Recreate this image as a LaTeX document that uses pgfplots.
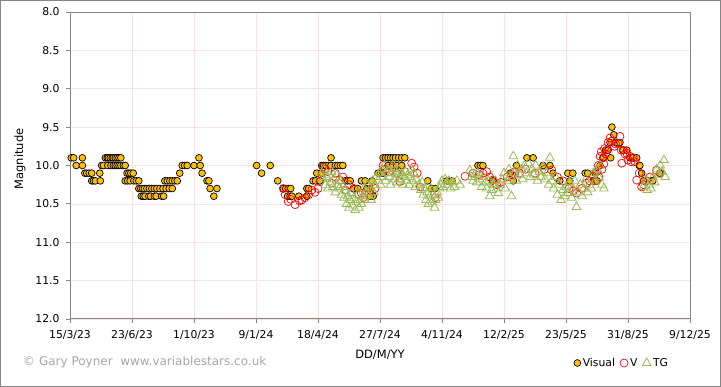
\documentclass[border=0pt]{standalone}
\usepackage{pgfplots}
\pgfplotsset{compat=1.18}
\usepackage{fontspec}
\setmainfont{DejaVu Sans}
\definecolor{visfill}{RGB}{255,192,0}
\definecolor{vred}{RGB}{255,0,0}
\definecolor{tggreen}{RGB}{155,187,89}
\definecolor{gridpink}{RGB}{250,226,226}
\definecolor{axisgray}{RGB}{134,134,134}
\definecolor{copygray}{RGB}{166,166,166}
\begin{document}
\begin{tikzpicture}[x=1pt,y=1pt]
\useasboundingbox (0,0) rectangle (721,387);
\draw[axisgray,line width=1.2pt] (0.6,0.6) rectangle (720.4,386.4);
\begin{axis}[
  at={(70pt,68pt)}, anchor=south west,
  scale only axis, width=620pt, height=307pt,
  xmin=0, xmax=1000, ymin=8, ymax=12, y dir=reverse,
  xtick={0,100,200,300,400,500,600,700,800,900,1000},
  xticklabels={15/3/23,23/6/23,1/10/23,9/1/24,18/4/24,27/7/24,4/11/24,12/2/25,23/5/25,31/8/25,9/12/25},
  ytick={8,8.5,9,9.5,10,10.5,11,11.5,12},
  yticklabel style={xshift=-3pt, /pgf/number format/fixed, /pgf/number format/fixed zerofill, /pgf/number format/precision=1},
  /pgf/number format/assume math mode=true,
  tick label style={font=\fontsize{10.8}{12}\selectfont},
  xticklabel style={yshift=-4pt},
  xtick pos=bottom, ytick pos=left,
  tick align=outside, major tick length=4pt,
  grid=major, major grid style={gridpink, line width=0.7pt},
  axis line style={axisgray, line width=1pt},
  tick style={axisgray, line width=0.8pt},
  legend columns=3,
  legend style={at={(axis description cs:0.8903,-0.1433)}, anchor=center, draw=none, fill=none,
     font=\fontsize{10.8}{12}\selectfont, inner sep=0pt,
     /tikz/every even column/.append style={column sep=3pt}},
  legend cell align=left,
  legend image code/.code={\draw[#1,mark repeat=2,mark phase=2] plot coordinates {(0pt,0pt)(5pt,0pt)(10pt,0pt)};},
]
\addplot[only marks, mark=*, mark size=3.4pt, mark options={fill=visfill, draw=black, line width=0.7pt}] coordinates {
(2,9.9)(6,9.9)(10,10.0)(20,9.9)(20,10.0)
(24,10.1)(27,10.1)(31,10.1)(35,10.1)(35,10.2)(38,10.2)(41,10.2)
(48,10.1)(49,10.2)(51,10.0)(54,10.0)
(57,9.9)(60,9.9)(62,9.9)(65,9.9)(68,9.9)(70,9.9)(73,9.9)(76,9.9)(79,9.9)(82,9.9)
(61,10.0)(66,10.0)(70,10.0)(73,10.0)(76,10.0)(79,10.0)(82,10.0)(86,10.0)(89,10.0)
(92,10.1)(95,10.1)(98,10.1)(102,10.1)
(89,10.2)(93,10.2)(97,10.2)(103,10.2)(107,10.2)(111,10.2)
(111,10.3)(114,10.3)(117,10.3)(120,10.3)(124,10.3)(128,10.3)(132,10.3)(136,10.3)(140,10.3)(145,10.3)(150,10.3)(155,10.3)(160,10.3)(165,10.3)
(115,10.4)(118,10.4)(121,10.4)(127,10.4)(130,10.4)(136,10.4)(139,10.4)(148,10.4)(151,10.4)
(153,10.2)(157,10.2)(161,10.2)(165,10.2)(169,10.2)(173,10.2)
(177,10.1)(181,10.0)(185,10.0)(189,10.0)
(200,10.0)(208,9.9)(210,10.0)(213,10.1)(221,10.2)(224,10.2)
(226,10.3)(237,10.3)(232,10.4)
(301,10.0)(309,10.1)(323,10.0)(335,10.2)
(344,10.3)(348,10.3)(352,10.3)(356,10.3)
(351,10.4)(355,10.4)(358,10.4)(369,10.4)
(382,10.3)(385,10.3)(382,10.4)
(392,10.2)(396,10.2)(398,10.1)(403,10.2)(406,10.1)
(406,10.0)(409,10.0)(413,10.0)(417,10.0)(421,10.0)(428,10.0)(432,10.0)(436,10.0)(440,10.0)
(421,9.9)
(444,10.2)(448,10.2)(452,10.2)(457,10.3)
(464,10.3)(470,10.2)(476,10.2)(479,10.3)(484,10.3)(487,10.2)(489,10.4)(484,10.4)
(497,10.1)(501,10.1)(505,10.1)
(505,9.9)(509,9.9)(513,9.9)(517,9.9)(521,9.9)(525,9.9)(530,9.9)(535,9.9)(540,9.9)
(513,10.0)(520,10.0)(527,10.0)(535,10.0)
(577,10.2)(583,10.3)(589,10.3)(608,10.2)(616,10.2)
(658,10.0)(662,10.0)(666,10.0)
(682,10.2)(710,10.1)(715,10.2)(720,10.0)
(737,9.9)(747,9.9)(763,10.0)(774,10.0)(779,10.1)(790,10.2)
(803,10.1)(811,10.1)(806,10.2)(831,10.1)(835,10.1)(844,10.2)(850,10.2)(847,10.1)
(855,10.0)(860,9.9)(864,9.8)(868,9.8)(871,9.7)(874,9.5)(877,9.6)(872,9.9)(880,9.7)(887,9.7)
(892,9.8)(898,9.8)(903,9.9)(908,9.9)(914,9.9)(918,10.0)(922,10.1)(925,10.2)(938,10.2)
(919,10.0)(940,10.2)(951,10.1)
};
\addlegendentry{Visual}
\addplot[only marks, mark=o, mark size=4pt, mark options={draw=vred, line width=0.7pt}] coordinates {
(344,10.3)(347,10.38)(352,10.47)(356,10.44)(363,10.51)(370,10.46)(374,10.45)(379,10.42)(385,10.38)
(390,10.32)(395,10.35)(400,10.3)(403,10.21)(406,10.12)(408,10.02)(411,10.05)(416,10.08)(422,10.23)
(428,10.1)(435,10.19)(440,10.15)(444,10.32)(450,10.25)(458,10.3)(465,10.37)(470,10.36)(473,10.42)
(478,10.33)(484,10.32)(492,10.3)(505,10.0)(508,10.05)(515,10.08)(521,10.03)(527,10.1)(532,10.21)
(540,10.08)(551,9.97)(555,10.02)(560,10.1)(565,10.28)(589,10.42)(637,10.14)(650,10.1)(660,10.12)
(666,10.1)(672,10.08)(677,10.15)(682,10.19)(688,10.25)(695,10.22)(705,10.15)(712,10.12)(718,10.08)
(725,10.1)(735,10.05)(750,10.1)(765,10.05)(777,10.06)(786,10.15)(795,10.2)(805,10.3)(812,10.33)
(817,10.36)(825,10.3)(833,10.23)(838,10.2)(844,10.14)(847,10.2)(850,10.08)(852,10.0)(853,10.15)
(855,9.88)(857,9.82)(858,10.05)(860,9.9)(861,9.98)(862,9.78)(864,9.85)(866,9.8)(868,9.7)(871,9.64)
(874,9.68)(878,9.75)(880,9.72)(884,9.71)(887,9.62)(889,9.8)(890,9.97)(892,9.8)(895,9.85)(898,9.84)
(900,9.93)(903,9.88)(905,9.95)(908,9.9)(911,9.95)(914,10.19)(918,10.1)(922,10.28)(925,10.25)
(930,10.2)(935,10.15)(946,10.06)(952,10.1)
};
\addlegendentry{V}
\addplot[only marks, mark=triangle, mark size=5pt, mark options={draw=tggreen, line width=0.8pt}] coordinates {
(406,10.10)(408,10.18)(410,10.05)(412,10.25)(414,10.15)(416,10.3)(418,10.12)(420,10.22)(422,10.08)
(424,10.28)(426,10.18)(428,10.35)(430,10.12)(432,10.25)(434,10.3)(436,10.2)(438,10.38)(440,10.28)
(442,10.42)(444,10.33)(446,10.5)(448,10.4)(450,10.55)(452,10.45)(454,10.36)(456,10.52)(458,10.42)
(460,10.58)(462,10.48)(464,10.38)(466,10.55)(468,10.45)(470,10.5)(472,10.4)(474,10.3)(476,10.45)
(478,10.35)(480,10.25)(482,10.4)(484,10.3)(486,10.45)(488,10.2)(490,10.35)(492,10.25)(494,10.15)
(497,10.2)(499,10.1)(501,10.25)(503,10.05)(505,10.15)(507,10.0)(509,10.2)(511,10.1)(513,10.05)
(515,10.15)(517,10.25)(519,10.1)(521,10.0)(523,10.18)(525,10.08)(527,10.22)(529,10.12)(531,10.05)
(533,10.18)(535,10.1)(537,10.25)(539,10.15)(541,10.08)(543,10.2)(545,10.12)(547,10.25)(549,10.15)
(551,10.05)(553,10.2)(555,10.1)(557,10.28)(559,10.18)
(563,10.25)(566,10.32)(568,10.22)(570,10.38)(572,10.3)(574,10.45)(576,10.35)(578,10.5)(580,10.4)
(582,10.3)(584,10.48)(586,10.38)(588,10.55)(590,10.45)(592,10.35)(594,10.42)(596,10.3)(598,10.25)
(600,10.2)(602,10.28)(605,10.18)(608,10.25)(611,10.2)(614,10.3)(617,10.22)(620,10.28)(624,10.2)(629,10.25)
(645,10.06)(648,10.15)(650,10.2)(653,10.12)(656,10.22)(658,10.1)(661,10.18)(664,10.28)(667,10.15)
(670,10.22)(672,10.3)(675,10.2)(677,10.4)(680,10.32)(683,10.25)(686,10.2)(688,10.3)(691,10.36)
(694,10.25)(697,10.18)(700,10.1)(702,10.3)(705,10.2)(708,10.05)(710,10.15)(712,10.4)(715,9.88)
(717,10.1)(720,10.2)(722,10.0)(725,10.12)(728,10.05)(730,10.18)(733,10.0)(736,10.1)(739,9.97)
(742,10.15)(745,10.05)(748,10.12)(751,10.0)(754,10.2)(757,10.08)(760,10.15)(763,10.02)(766,10.18)
(769,10.1)(772,10.25)(774,9.9)(777,10.2)(780,10.3)(783,10.15)(786,10.38)(789,10.25)(792,10.45)
(795,10.32)(798,10.4)(800,10.28)(803,10.36)(806,10.22)(809,10.42)(811,10.3)(814,10.2)(817,10.54)
(820,10.35)(823,10.25)(826,10.4)(829,10.3)(832,10.18)(835,10.35)(838,10.25)(841,10.3)(844,10.1)
(847,10.2)(850,10.05)(853,10.15)(855,10.0)(858,10.25)(861,10.3)
(925,10.28)(928,10.2)(931,10.32)(934,10.25)(937,10.3)(940,10.15)(943,10.22)(946,10.05)(949,10.12)
(952,10.0)(955,10.08)(958,9.93)(960,10.15)
};
\addlegendentry{TG}
\end{axis}
\draw[axisgray, line width=0.8pt] (70,375) -- (690,375) -- (690,68);
\node[rotate=90, font=\fontsize{11.5}{13}\selectfont] at (20,228) {Magnitude};
\node[font=\fontsize{11.5}{13}\selectfont] at (380,32) {DD/M/YY};
\node[anchor=west, text=copygray, font=\fontsize{12}{14}\selectfont, inner sep=0pt] at (23,25) {© Gary Poyner\ \ www.variablestars.co.uk};
\end{tikzpicture}
\end{document}
